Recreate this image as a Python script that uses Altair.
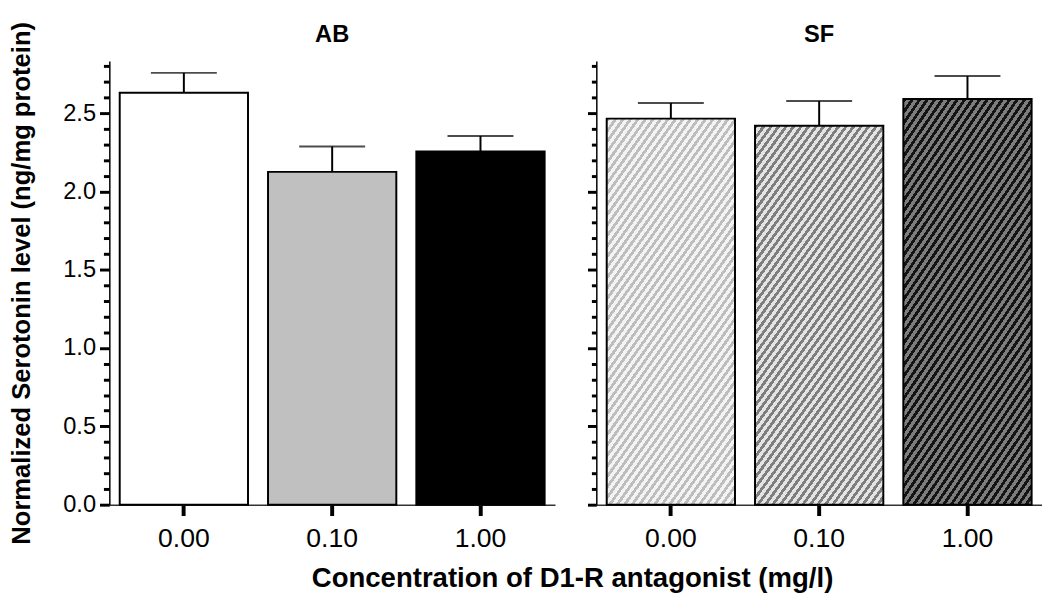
import altair as alt
import pandas as pd

# ---- data ----
conc = ["0.00", "0.10", "1.00"]
ab_mean = [2.63, 2.125, 2.255]
ab_err = [0.127, 0.162, 0.099]
sf_mean = [2.465, 2.42, 2.59]
sf_err = [0.100, 0.157, 0.147]
ab_fill = ["#ffffff", "#c0c0c0", "#000000"]
# (background, stripe) colours of the hatched SF bars
sf_hatch = [("#f3f3f3", "#bdbdbd"), ("#e4e4e4", "#7e7e7e"), ("#7d7d7d", "#141414")]
y_tick_values = [0.0, 0.1, 0.2, 0.3, 0.4, 0.5, 0.6, 0.7, 0.8, 0.9,
                 1.0, 1.1, 1.2, 1.3, 1.4, 1.5, 1.6, 1.7, 1.8, 1.9,
                 2.0, 2.1, 2.2, 2.3, 2.4, 2.5, 2.6, 2.7, 2.8]
y_max = 2.833

FONT = "Liberation Sans"

ab = pd.DataFrame({"conc": conc, "mean": ab_mean, "err": ab_err})
ab["upper"] = ab["mean"] + ab["err"]
sf = pd.DataFrame({"conc": conc, "mean": sf_mean, "err": sf_err})
sf["upper"] = sf["mean"] + sf["err"]

MAJOR = "abs(datum.value*2 - round(datum.value*2)) < 0.01"


def hatch(bg, fg, n=54, frac=0.47):
    stops = []
    for i in range(n):
        o0 = i / n
        o1 = (i + frac) / n
        o2 = (i + 1) / n
        stops += [
            {"offset": o0, "color": fg},
            {"offset": o1, "color": fg},
            {"offset": o1, "color": bg},
            {"offset": o2, "color": bg},
        ]
    return {"gradient": "linear", "x1": 0, "y1": 0, "x2": 0.56, "y2": 1.205, "stops": stops}


xscale = alt.Scale(domain=conc, paddingInner=0.135, paddingOuter=0.07)
yscale = alt.Scale(domain=[0, y_max], nice=False, zero=True)

x_axis = alt.Axis(
    title=None, labelAngle=0, labelFontSize=27, labelFont=FONT, labelColor="black",
    labelPadding=11, tickSize=11, tickWidth=4, tickColor="black",
    domainColor="#333333", domainWidth=1.5,
)


def y_axis(left):
    return alt.Axis(
        values=y_tick_values,
        title="Normalized Serotonin level (ng/mg protein)" if left else None,
        labels=left,
        labelExpr=f"{MAJOR} ? format(datum.value, '.1f') : ''",
        labelOverlap=False,
        labelFontSize=24, labelFont=FONT, labelColor="black", labelPadding=4,
        tickSize={"condition": {"test": MAJOR, "value": 10 if left else 9}, "value": 6 if left else 5},
        tickWidth=3, tickColor="black",
        domainColor="black", domainWidth=1.5,
        titleFontSize=26, titleFont=FONT, titleFontWeight="bold", titleColor="black",
        titlePadding=29, grid=False,
    )


def errorbars(df, left):
    base = alt.Chart(df)
    stem = base.mark_rule(color="black", strokeWidth=2).encode(
        x=alt.X("conc:N", scale=xscale, sort=conc, axis=x_axis),
        y=alt.Y("mean:Q", scale=yscale, axis=y_axis(left)),
        y2="upper:Q",
    )
    cap = base.mark_tick(color="black", thickness=2, size=67, orient="horizontal").encode(
        x=alt.X("conc:N", scale=xscale, sort=conc, axis=x_axis),
        y=alt.Y("upper:Q", scale=yscale, axis=y_axis(left)),
    )
    return [stem, cap]


ab_bars = alt.Chart(ab).mark_bar(stroke="black", strokeWidth=2).encode(
    x=alt.X("conc:N", scale=xscale, sort=conc, axis=x_axis),
    y=alt.Y("mean:Q", scale=yscale, axis=y_axis(True)),
    fill=alt.Fill("conc:N", scale=alt.Scale(domain=conc, range=ab_fill), legend=None),
)

left = alt.layer(ab_bars, *errorbars(ab, True)).properties(
    width=453, height=451,
    title=alt.TitleParams("AB", fontSize=24, fontWeight="bold", font=FONT, anchor="middle",
                          offset=-26, color="black"),
)

sf_layers = []
for c, (bg, fg) in zip(conc, sf_hatch):
    sf_layers.append(
        alt.Chart(sf).transform_filter(alt.datum.conc == c)
        .mark_bar(stroke="black", strokeWidth=2, fill=hatch(bg, fg))
        .encode(
            x=alt.X("conc:N", scale=xscale, sort=conc, axis=x_axis),
            y=alt.Y("mean:Q", scale=yscale, axis=y_axis(False)),
        )
    )

right = alt.layer(*sf_layers, *errorbars(sf, False)).properties(
    width=453, height=451,
    title=alt.TitleParams("SF", fontSize=24, fontWeight="bold", font=FONT, anchor="middle",
                          offset=14, color="black"),
)

chart = alt.hconcat(left, right, spacing=31).properties(
    title=alt.TitleParams(
        "Concentration of D1-R antagonist (mg/l)", orient="bottom", anchor="middle",
        fontSize=28, fontWeight="bold", font=FONT, color="black", dx=48, offset=14,
    ),
    padding={"left": 0, "top": 8, "right": 0, "bottom": 0},
).configure(font=FONT, view=alt.ViewConfig(stroke=None))

chart.save("out.html", embed_options={"renderer": "svg", "actions": False})
